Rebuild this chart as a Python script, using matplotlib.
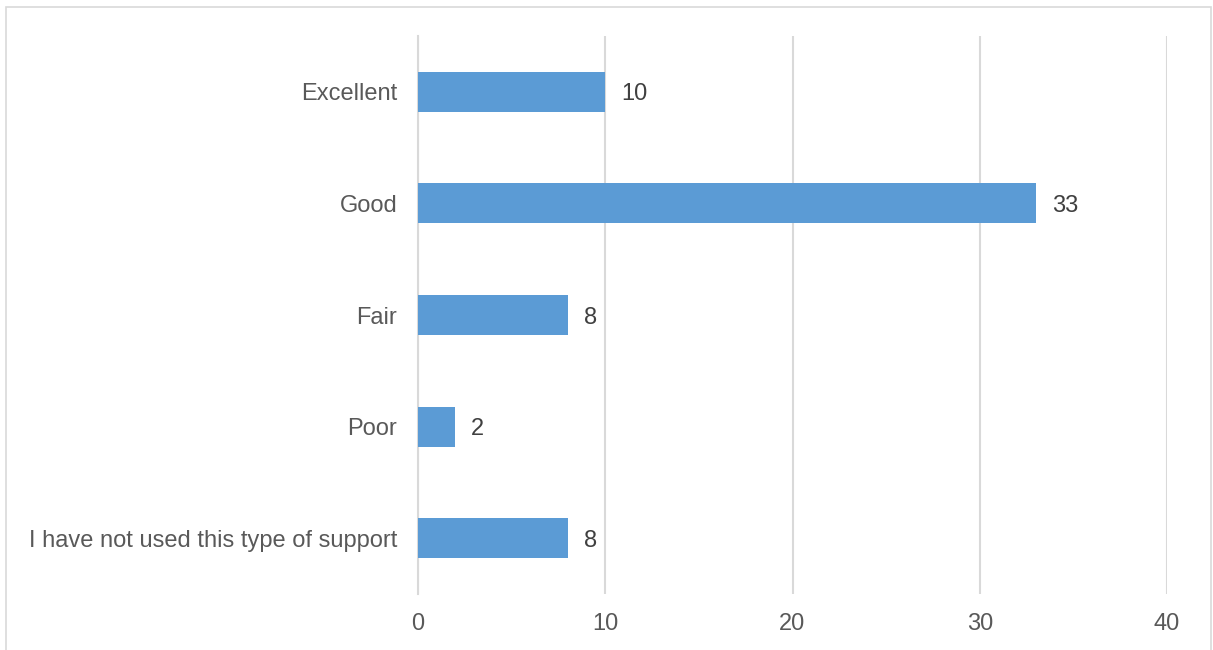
import matplotlib.pyplot as plt
from matplotlib.patches import Rectangle

categories = ["Excellent", "Good", "Fair", "Poor", "I have not used this type of support"]
counts = [10, 33, 8, 2, 8]
x_ticks = [0, 10, 20, 30, 40]

plt.rcParams["font.family"] = ["Liberation Sans", "DejaVu Sans"]

W, H = 1213, 650
fig = plt.figure(figsize=(W / 100, H / 100), dpi=100)

# chart frame
fig.patches.append(Rectangle((6 / W, -0.05), (1211 - 6) / W, 1.05 - 7 / H,
                             transform=fig.transFigure, fill=False,
                             edgecolor="#D9D9D9", linewidth=1.2))

ax = fig.add_axes([418 / W, 1 - 594 / H, (1167 - 418) / W, (594 - 36) / H])

y = list(range(len(categories)))
ax.barh(y, counts, height=0.36, color="#5B9BD5", zorder=3)
for yi, v in zip(y, counts):
    ax.text(v + 0.85, yi, str(v), va="center_baseline", ha="left",
            fontsize=17, color="#404040")

ax.set_ylim(len(categories) - 0.5, -0.5)
ax.set_yticks(y)
ax.set_yticklabels(categories, va="center_baseline")
ax.set_xlim(0, 40)
ax.set_xticks(x_ticks)

ax.grid(axis="x", color="#D9D9D9", linewidth=1.5, zorder=0)
ax.set_axisbelow(True)
for side in ["top", "right", "bottom"]:
    ax.spines[side].set_visible(False)
ax.spines["left"].set_color("#D9D9D9")
ax.spines["left"].set_linewidth(1.5)
ax.tick_params(axis="both", length=0, labelsize=17, labelcolor="#595959")
ax.tick_params(axis="y", pad=15)
ax.tick_params(axis="x", pad=14)

fig.savefig("out.png", dpi=100)
